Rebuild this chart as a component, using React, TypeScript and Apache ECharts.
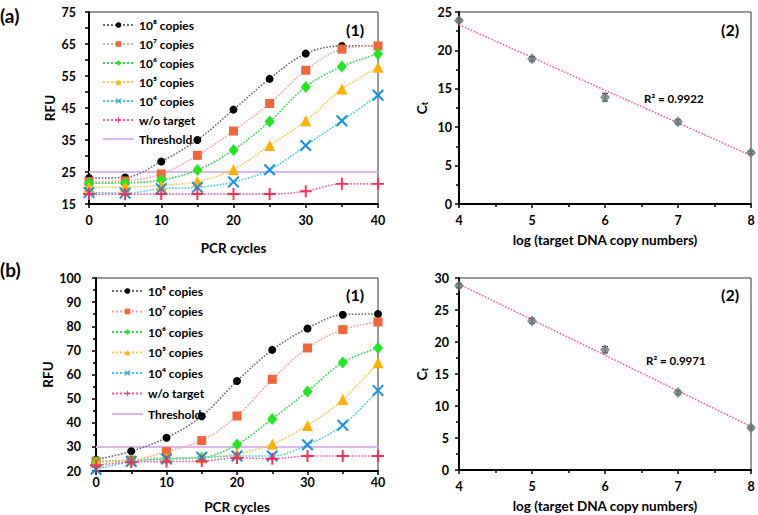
import React, { useEffect, useRef } from "react";
import * as echarts from "echarts";

// ---------- data ----------
const cycles = [0, 5, 10, 15, 20, 25, 30, 35, 40];
const names = ["10⁸ copies", "10⁷ copies", "10⁶ copies", "10⁵ copies", "10⁴ copies", "w/o target"];
const thresholdName = "Threshold";

// panel (a)(1) RFU
const a8 = [23.1, 23.3, 28.3, 35.0, 44.5, 54.1, 62.0, 64.4, 64.4];
const a7 = [22.0, 22.2, 24.4, 30.2, 37.8, 46.4, 56.8, 63.4, 64.4];
const a6 = [21.5, 21.6, 22.5, 25.6, 31.9, 40.8, 51.6, 58.0, 61.9];
const a5 = [20.2, 20.3, 20.8, 22.0, 25.8, 33.3, 41.0, 50.9, 57.7];
const a4 = [18.6, 18.4, 19.8, 20.2, 21.9, 25.7, 33.3, 41.0, 49.0];
const a0 = [18.1, 18.1, 18.1, 18.1, 18.1, 18.1, 19.0, 21.3, 21.3];
const thresholdA = 25;

// panel (b)(1) RFU
const b8 = [24.7, 28.2, 33.8, 42.7, 57.3, 70.2, 79.1, 84.8, 85.1];
const b7 = [24.0, 24.5, 28.0, 32.6, 42.8, 58.0, 71.0, 78.6, 81.8];
const b6 = [23.7, 24.5, 25.0, 25.5, 31.0, 41.6, 53.0, 65.0, 71.0];
const b5 = [23.5, 24.5, 25.5, 25.5, 27.0, 31.2, 38.9, 49.6, 64.9];
const b4 = [20.7, 23.9, 25.0, 25.7, 26.2, 26.2, 30.9, 39.0, 53.4];
const b0 = [22.3, 23.7, 23.9, 24.1, 25.4, 25.1, 26.2, 26.2, 26.2];
const thresholdB = 30;

// panels (2): Ct vs log copies
const logCopies = [4, 5, 6, 7, 8];
const ctA = [23.9, 18.9, 13.9, 10.7, 6.7];
const errA = [0.2, 0.3, 0.5, 0.3, 0.2];
const ctB = [28.8, 23.3, 18.8, 12.1, 6.6];
const errB = [0.3, 0.4, 0.5, 0.3, 0.2];
const r2A = "R² = 0.9922";
const r2B = "R² = 0.9971";

// y tick labels of RFU panels
const rfuTicksA = [15, 25, 35, 45, 55, 65, 75];
const rfuTicksB = [20, 30, 40, 50, 60, 70, 80, 90, 100];

// ---------- styles ----------
const FONT = "Lato";
const markerColors = ["#000000", "#f2663a", "#1ee81e", "#ffb000", "#1a90e0", "#ff2a55"];
const lineColors = ["#5f6f7f", "#f9a090", "#22dd44", "#ffc444", "#33d0ee", "#ff55a8"];
const XSYM = "path://M0,1.2 L1.2,0 L5,3.8 L8.8,0 L10,1.2 L6.2,5 L10,8.8 L8.8,10 L5,6.2 L1.2,10 L0,8.8 L3.8,5 Z";
const PSYM = "path://M4.2,0 H5.8 V4.2 H10 V5.8 H5.8 V10 H4.2 V5.8 H0 V4.2 H4.2 Z";
const symbols = ["circle", "rect", "diamond", "triangle", XSYM, PSYM];
const symSizes = [8, 9, [10, 12], 11, 12, 12];
const thresholdColor = "#dcb6ee";

function fit(xs: number[], ys: number[]) {
  const n = xs.length;
  const mx = xs.reduce((s, v) => s + v, 0) / n;
  const my = ys.reduce((s, v) => s + v, 0) / n;
  let sxy = 0, sxx = 0;
  for (let i = 0; i < n; i++) {
    sxy += (xs[i] - mx) * (ys[i] - my);
    sxx += (xs[i] - mx) * (xs[i] - mx);
  }
  const k = sxy / sxx;
  return (x: number) => my + k * (x - mx);
}

export default function App() {
  const ref = useRef<HTMLDivElement>(null);
  useEffect(() => {
    if (!ref.current) return;
    const chart = echarts.init(ref.current, null, { renderer: "svg" });

    const labelStyle = { color: "#000", fontFamily: FONT, fontWeight: "bold" as const, fontSize: 12.5 };
    const nameStyle = { color: "#000", fontFamily: FONT, fontWeight: "bold" as const, fontSize: 13.5 };
    const axisLine = { show: true, lineStyle: { color: "#000", width: 2 } };
    const axisTick = { show: true, length: 4, lineStyle: { color: "#000", width: 1.5 } };
    const minorTick = { show: true, splitNumber: 2, length: 3, lineStyle: { color: "#000", width: 1.5 } };

    const grids = [
      { left: 89, top: 12, width: 289, height: 192 },
      { left: 459, top: 12, width: 292, height: 192 },
      { left: 96, top: 278, width: 282, height: 193 },
      { left: 459, top: 278, width: 292, height: 192 },
    ].map((g) => ({ ...g, show: true, borderColor: "#333", borderWidth: 1, backgroundColor: "transparent" }));

    const rfuX = (gi: number, margin: number, gap: number) => ({
      type: "value", gridIndex: gi, min: 0, max: 40, interval: 10,
      axisLine, axisTick, minorTick, splitLine: { show: false },
      axisLabel: { ...labelStyle, margin },
      name: "PCR cycles", nameLocation: "middle", nameGap: gap, nameTextStyle: nameStyle,
    });
    const logX = (gi: number, gap: number) => ({
      type: "value", gridIndex: gi, min: 4, max: 8, interval: 1,
      axisLine, axisTick, minorTick, splitLine: { show: false },
      axisLabel: { ...labelStyle, margin: 10 },
      name: "log (target DNA copy numbers)", nameLocation: "middle", nameGap: gap, nameTextStyle: nameStyle,
    });
    const ctName = {
      name: "C{sub|t}", nameLocation: "middle", nameGap: 30,
      nameTextStyle: { ...nameStyle, rich: { sub: { fontFamily: FONT, fontWeight: "bold", fontSize: 9, color: "#000", verticalAlign: "bottom", padding: [6, 0, 0, 0] } } },
    };

    const xAxis = [rfuX(0, 10, 37), logX(1, 29), rfuX(2, 5, 29), logX(3, 29)];
    const yAxis = [
      {
        type: "value", gridIndex: 0, min: 15, max: 75, interval: 5,
        axisLine, axisTick, splitLine: { show: false },
        axisLabel: { ...labelStyle, margin: 13, formatter: (v: number) => (rfuTicksA.includes(v) ? String(v) : "") },
        name: "RFU", nameLocation: "middle", nameGap: 32, nameTextStyle: nameStyle,
      },
      {
        type: "value", gridIndex: 1, min: 0, max: 25, interval: 5,
        axisLine, axisTick, minorTick, splitLine: { show: false },
        axisLabel: { ...labelStyle, margin: 7 }, ...ctName,
      },
      {
        type: "value", gridIndex: 2, min: 20, max: 100, interval: 10,
        axisLine, axisTick, minorTick, splitLine: { show: false },
        axisLabel: { ...labelStyle, margin: 15, formatter: (v: number) => (rfuTicksB.includes(v) ? String(v) : "") },
        name: "RFU", nameLocation: "middle", nameGap: 39, nameTextStyle: nameStyle,
      },
      {
        type: "value", gridIndex: 3, min: 0, max: 30, interval: 5,
        axisLine, axisTick, minorTick, splitLine: { show: false },
        axisLabel: { ...labelStyle, margin: 10 }, ...ctName,
      },
    ];

    const rfuSeries = (sets: number[][], thr: number, gi: number) => {
      const out: any[] = sets.map((d, i) => ({
        type: "line", name: names[i], xAxisIndex: gi, yAxisIndex: gi,
        data: cycles.map((c, j) => [c, d[j]]),
        smooth: 0.35, symbol: symbols[i], symbolSize: symSizes[i],
        itemStyle: { color: markerColors[i] },
        lineStyle: { type: "dotted", width: 1.6, color: lineColors[i] },
        z: 3 + i,
      }));
      out.unshift({
        type: "line", name: thresholdName, xAxisIndex: gi, yAxisIndex: gi,
        data: [[cycles[0], thr], [cycles[cycles.length - 1], thr]],
        symbol: "none", lineStyle: { type: "solid", width: 2, color: thresholdColor }, itemStyle: { color: thresholdColor }, z: 2,
      });
      return out;
    };

    const ctSeries = (ys: number[], errs: number[], gi: number) => {
      const f = fit(logCopies, ys);
      const x0 = logCopies[0], x1 = logCopies[logCopies.length - 1];
      return [
        {
          type: "line", xAxisIndex: gi, yAxisIndex: gi, data: [[x0, f(x0)], [x1, f(x1)]],
          symbol: "none", lineStyle: { type: "dotted", width: 1.6, color: "#ff5aa8" }, z: 2,
        },
        {
          type: "custom", xAxisIndex: gi, yAxisIndex: gi,
          data: logCopies.map((x, i) => [x, ys[i], errs[i]]),
          renderItem: (_p: any, api: any) => {
            const x = api.value(0), y = api.value(1), e = api.value(2);
            const t = api.coord([x, y + e]);
            const b = api.coord([x, y - e]);
            const st = { stroke: "#444", lineWidth: 1.2 };
            return {
              type: "group", children: [
                { type: "line", shape: { x1: t[0], y1: t[1], x2: b[0], y2: b[1] }, style: st },
                { type: "line", shape: { x1: t[0] - 3, y1: t[1], x2: t[0] + 3, y2: t[1] }, style: st },
                { type: "line", shape: { x1: b[0] - 3, y1: b[1], x2: b[0] + 3, y2: b[1] }, style: st },
              ],
            };
          },
          z: 3,
        },
        {
          type: "scatter", xAxisIndex: gi, yAxisIndex: gi, data: logCopies.map((x, i) => [x, ys[i]]),
          symbol: "diamond", symbolSize: [10, 11], itemStyle: { color: "#6a7878" }, z: 4,
        },
      ];
    };

    const legendBase = {
      orient: "vertical",
      data: [...names, { name: thresholdName, itemStyle: { opacity: 0 } }],
      itemHeight: 7,
      textStyle: { color: "#000", fontFamily: FONT, fontWeight: "bold", fontSize: 12, lineHeight: 14 },
      selectedMode: false,
    };

    const text = (left: number, top: number, s: string, size: number) => ({
      type: "text", left, top,
      style: { text: s, fill: "#000", font: `bold ${size}px ${FONT}` },
    });

    chart.setOption({
      animation: false,
      grid: grids,
      xAxis, yAxis,
      legend: [
        { ...legendBase, left: 97, top: 13, itemWidth: 31, itemGap: 5 },
        { ...legendBase, left: 106, top: 279, itemWidth: 31, itemGap: 6.5 },
      ],
      series: [
        ...rfuSeries([a8, a7, a6, a5, a4, a0], thresholdA, 0),
        ...ctSeries(ctA, errA, 1),
        ...rfuSeries([b8, b7, b6, b5, b4, b0], thresholdB, 2),
        ...ctSeries(ctB, errB, 3),
      ],
      graphic: [
        text(0, 6, "(a)", 19),
        text(0, 260, "(b)", 19),
        text(346, 21, "(1)", 16),
        text(721, 21, "(2)", 16),
        text(346, 286, "(1)", 16),
        text(721, 286, "(2)", 16),
        text(644, 92, r2A, 11.5),
        text(646, 354, r2B, 11.5),
      ],
    });
    return () => chart.dispose();
  }, []);
  return <div ref={ref} style={{ position: "absolute", left: 0, top: 0, width: 758, height: 515, background: "#fff" }} />;
}
